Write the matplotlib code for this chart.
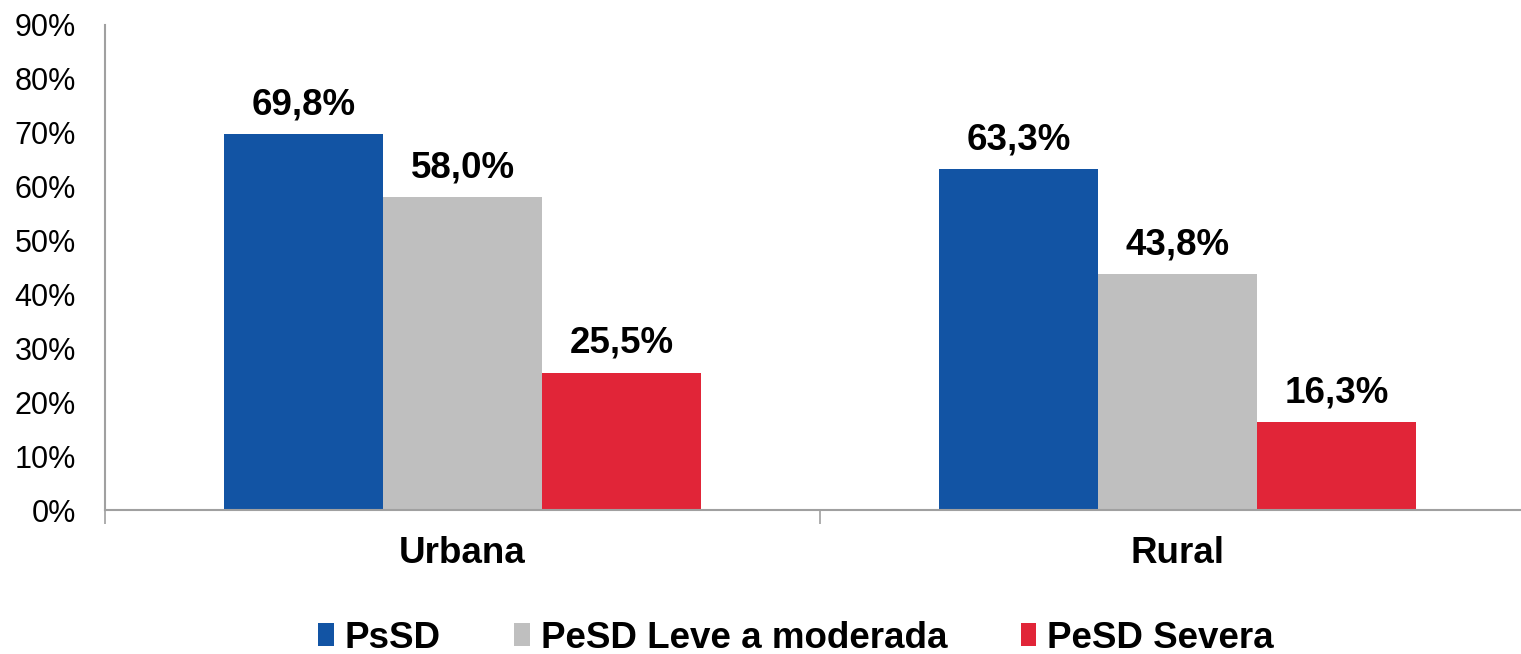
import matplotlib.pyplot as plt
import numpy as np

plt.rcParams["font.family"] = ["Liberation Sans", "DejaVu Sans"]

categories = ["Urbana", "Rural"]
series = ["PsSD", "PeSD Leve a moderada", "PeSD Severa"]
psd = [69.8, 63.3]
pesd_leve = [58.0, 43.8]
pesd_severa = [25.5, 16.3]
colors = ["#1254A4", "#BFBFBF", "#E12538"]

W, H = 1521, 654
fig = plt.figure(figsize=(W / 100, H / 100), dpi=100)
ax = fig.add_axes([105 / W, 1 - 510 / H, (W - 105) / W, (510 - 25) / H])

x = np.arange(len(categories))
bw = 0.2225
for i, (vals, name, c) in enumerate(zip([psd, pesd_leve, pesd_severa], series, colors)):
    pos = x + (i - 1) * bw
    ax.bar(pos, vals, width=bw, color=c, label=name, zorder=2)
    for p, v in zip(pos, vals):
        ax.text(p, v + 2.2, f"{v:.1f}%".replace(".", ","), ha="center", va="bottom",
                fontsize=26.5, fontweight="bold")

ax.set_yticks(np.arange(0, 91, 10))
ax.set_yticklabels([f"{t}%" for t in range(0, 91, 10)], fontsize=22)
ax.tick_params(axis="y", length=0, pad=21)

ax.set_xticks([-0.5, 0.5])
ax.set_xticklabels([])
ax.tick_params(axis="x", length=10, color="#A0A0A0", width=1.2)
ax.set_ylim(0, 90)
ax.set_xlim(-0.5, -0.5 + (W - 105) / 715)
for xi, cat in zip(x, categories):
    ax.text(xi, -8.0, cat, ha="center", va="center", fontsize=26.5, fontweight="bold")

for s in ["top", "right"]:
    ax.spines[s].set_visible(False)
for s in ["left", "bottom"]:
    ax.spines[s].set_color("#A0A0A0")
    ax.spines[s].set_linewidth(1.5)

leg = fig.legend(loc="center", bbox_to_anchor=(796 / W, 1 - 638 / H), ncol=3,
                 frameon=False, handlelength=0.42, handleheight=0.6, handletextpad=0.3,
                 columnspacing=2.0, prop={"weight": "bold", "size": 26.5})

fig.savefig("out.png", dpi=100)
